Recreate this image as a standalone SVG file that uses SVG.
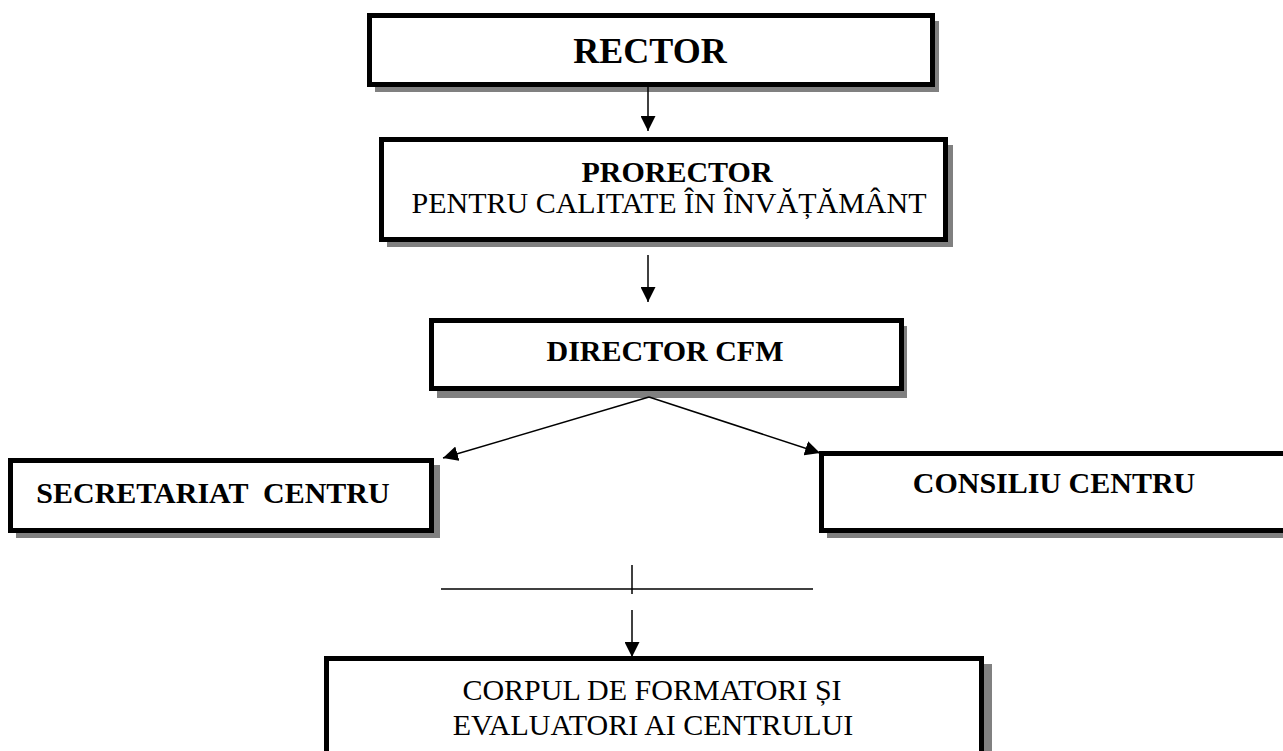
<svg xmlns="http://www.w3.org/2000/svg" width="1283" height="751" viewBox="0 0 1283 751">
<style>
.box{fill:#fff;stroke:#000;stroke-width:5}
.sh{fill:#808080}
.b{font-family:"Liberation Serif",serif;font-weight:bold;fill:#000;text-anchor:middle}
.n{font-family:"Liberation Serif",serif;fill:#000;text-anchor:middle}
.ln{stroke:#000;stroke-width:1.5;fill:none}
</style>
<defs>
<marker id="ah" viewBox="0 0 10 10" refX="10" refY="5" markerWidth="15" markerHeight="15" markerUnits="userSpaceOnUse" orient="auto">
<path d="M0,0 L10,5 L0,10 z" fill="#000"/>
</marker>
</defs>
<rect width="1283" height="751" fill="#fff"/>
<g id="rector">
<rect class="sh" x="375" y="21" width="564" height="71"/>
<rect class="box" x="369.5" y="15.5" width="563" height="69"/>
<text class="b" x="650" y="63" font-size="36">RECTOR</text>
</g>
<g id="prorector">
<rect class="sh" x="387" y="145" width="566" height="102"/>
<rect class="box" x="381.5" y="139.5" width="564" height="100"/>
<text class="b" x="677" y="182" font-size="30">PRORECTOR</text>
<text class="n" x="669" y="213" font-size="30">PENTRU CALITATE ÎN ÎNVĂȚĂMÂNT</text>
</g>
<g id="director">
<rect class="sh" x="437" y="326" width="470" height="72"/>
<rect class="box" x="431.5" y="320.5" width="470" height="68"/>
<text class="b" x="665" y="361" font-size="30">DIRECTOR CFM</text>
</g>
<g id="secretariat">
<rect class="sh" x="16" y="465" width="424" height="73"/>
<rect class="box" x="10.5" y="460.5" width="421" height="70"/>
<text class="b" x="213" y="503" font-size="30" xml:space="preserve">SECRETARIAT  CENTRU</text>
</g>
<g id="consiliu">
<rect class="sh" x="827" y="459" width="470" height="79"/>
<rect class="box" x="821.5" y="453.5" width="470" height="77"/>
<text class="b" x="1054" y="493" font-size="30">CONSILIU CENTRU</text>
</g>
<g id="corpul">
<rect class="sh" x="332" y="664" width="660" height="100"/>
<rect class="box" x="326.5" y="658.5" width="655" height="100"/>
<text class="n" x="652" y="700" font-size="30">CORPUL DE FORMATORI ȘI</text>
<text class="n" x="653" y="735" font-size="30">EVALUATORI AI CENTRULUI</text>
</g>
<g id="connectors">
<line class="ln" x1="648" y1="87" x2="648" y2="131" marker-end="url(#ah)"/>
<line class="ln" x1="648" y1="255" x2="648" y2="302" marker-end="url(#ah)"/>
<line class="ln" x1="649" y1="397" x2="443" y2="458" marker-end="url(#ah)"/>
<line class="ln" x1="649" y1="397" x2="820" y2="453" marker-end="url(#ah)"/>
<line class="ln" x1="441" y1="589" x2="813" y2="589"/>
<line class="ln" x1="632" y1="565" x2="632" y2="594"/>
<line class="ln" x1="632" y1="610" x2="632" y2="657" marker-end="url(#ah)"/>
</g>
</svg>
